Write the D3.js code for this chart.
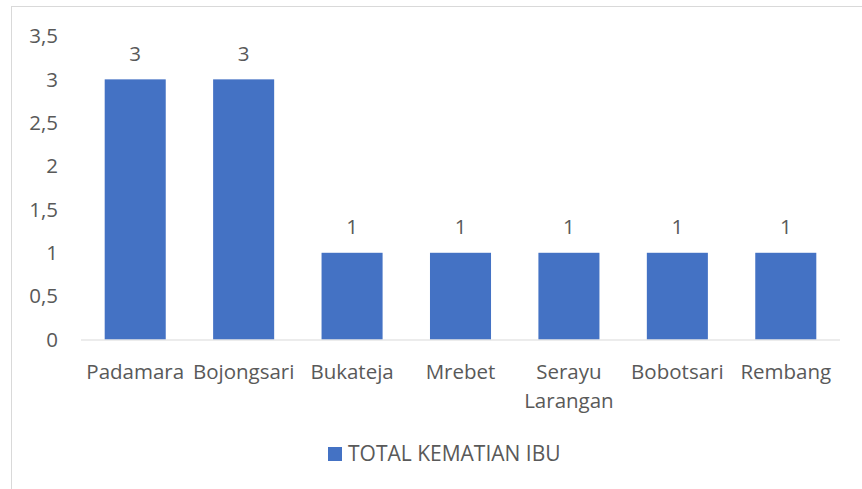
<!DOCTYPE html>
<html>
<head>
<meta charset="utf-8">
<script src="https://cdn.jsdelivr.net/npm/d3@7"></script>
<style>
  body { margin: 0; background: #fff; }
  svg text { font-family: "Open Sans", Lato, sans-serif; fill: #595959; }
</style>
</head>
<body>
<div id="chart"></div>
<script>
var width = 862,
    height = 489;

var categories = ["Padamara", "Bojongsari", "Bukateja", "Mrebet", "Serayu Larangan", "Bobotsari", "Rembang"];
var values = [3, 3, 1, 1, 1, 1, 1];
var yTicks = [0, 0.5, 1, 1.5, 2, 2.5, 3, 3.5];
var seriesName = "TOTAL KEMATIAN IBU";

var margin = {left: 81, right: 22, top: 36, bottom: 150};
var color = "#4472C4";
var fs = "20.5px";

var svg = d3.select("#chart").append("svg")
    .attr("width", width)
    .attr("height", height);

// chart frame
svg.append("rect")
    .attr("x", 11.5).attr("y", 6.5)
    .attr("width", width + 20).attr("height", height + 20)
    .attr("fill", "none")
    .attr("stroke", "#d9d9d9");

var x = d3.scaleBand()
    .domain(categories)
    .range([margin.left, width - margin.right])
    .paddingInner(0.437)
    .paddingOuter(0.2185);

var y = d3.scaleLinear()
    .domain([0, 3.5])
    .range([339.5, margin.top]);

var fmt = function(d) { return String(d).replace(".", ","); };

// y labels
svg.selectAll("text.ytick")
    .data(yTicks)
    .enter().append("text")
    .attr("class", "ytick")
    .attr("x", 58)
    .attr("y", function(d) { return y(d); })
    .attr("dy", "0.35em")
    .attr("text-anchor", "end")
    .style("font-size", fs)
    .text(fmt);

// bars
svg.selectAll("rect.bar")
    .data(values)
    .enter().append("rect")
    .attr("class", "bar")
    .attr("x", function(d, i) { return x(categories[i]); })
    .attr("y", function(d) { return y(d); })
    .attr("width", x.bandwidth())
    .attr("height", function(d) { return y(0) - y(d); })
    .attr("fill", color);

// baseline
svg.append("line")
    .attr("x1", margin.left).attr("x2", width - margin.right)
    .attr("y1", y(0) + 0.5).attr("y2", y(0) + 0.5)
    .attr("stroke", "#d9d9d9");

// value labels
svg.selectAll("text.val")
    .data(values)
    .enter().append("text")
    .attr("class", "val")
    .attr("x", function(d, i) { return x(categories[i]) + x.bandwidth() / 2; })
    .attr("y", function(d) { return y(d) - 26; })
    .attr("dy", "0.35em")
    .attr("text-anchor", "middle")
    .style("font-size", fs)
    .text(fmt);

// category labels (wrap on space when too long)
var xl = svg.selectAll("text.xlab")
    .data(categories)
    .enter().append("text")
    .attr("class", "xlab")
    .attr("text-anchor", "middle")
    .attr("transform", function(d) { return "translate(" + (x(d) + x.bandwidth() / 2) + "," + (y(0) + 39) + ")"; })
    .style("font-size", fs);

xl.each(function(d) {
    var t = d3.select(this);
    var parts = d.length > 12 ? d.split(" ") : [d];
    parts.forEach(function(p, i) {
        t.append("tspan").attr("x", 0).attr("dy", i === 0 ? 0 : 29).text(p);
    });
});

// legend
var lg = svg.append("g").attr("transform", "translate(328,447)");
lg.append("rect").attr("width", 14).attr("height", 14).attr("fill", color);
lg.append("text")
    .attr("x", 20).attr("y", 7).attr("dy", "0.35em")
    .style("font-size", "21px")
    .text(seriesName);
</script>
</body>
</html>
